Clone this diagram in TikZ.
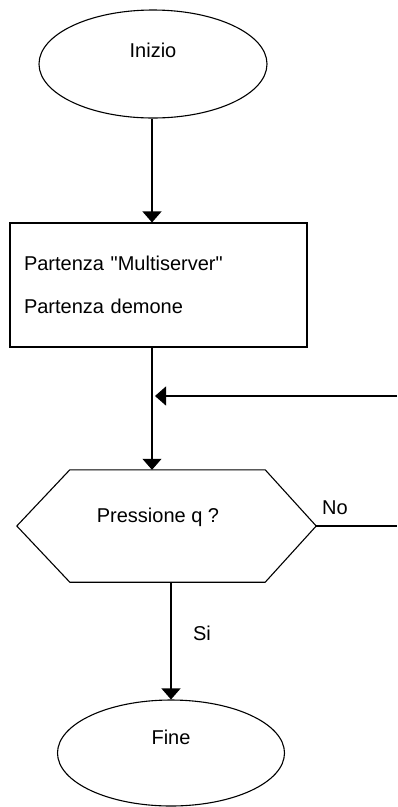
\documentclass[tikz,border=0pt]{standalone}
\usepackage{fontspec}
\setmainfont{Liberation Sans}[Ligatures=TeXOff]
\usetikzlibrary{shapes.geometric,arrows.meta}
\begin{document}
\begin{tikzpicture}[x=1pt,y=-1pt,
  every node/.style={font=\fontsize{20}{24}\selectfont},
  line/.style={line width=1.1pt},
  arr/.style={line width=1.1pt,-{Triangle[width=19pt,length=11pt]}},
  term/.style={ellipse,draw,line width=1.1pt,minimum width=228pt,minimum height=108pt,inner sep=0pt,text height=15pt,text depth=29pt},
  procbox/.style={rectangle,draw,line width=1.1pt,minimum width=297pt,minimum height=124pt,inner sep=0pt,text width=269pt,align=left,font=\fontsize{20}{43}\selectfont},
  lbl/.style={inner sep=0pt}
]
\useasboundingbox (0,0) rectangle (397,807);
\node[term] (start) at (153,64) {Inizio};
\node[procbox] (proc) at (158.5,285) {Partenza "Multiserver"\\Partenza demone};
\node[rectangle,minimum width=299pt,minimum height=112pt,inner sep=0pt] (dec) at (166.5,526) {};
\draw[line] (dec.west) -- ([xshift=53pt]dec.north west) -- ([xshift=-51pt]dec.north east) -- (dec.east) -- ([xshift=-51pt]dec.south east) -- ([xshift=53pt]dec.south west) -- cycle;
\node[lbl] (qtext) at (158,517) {Pressione q ?};
\node[term,minimum width=227pt,minimum height=106pt,text depth=33pt,text height=15pt] (end) at (171,753) {Fine};
\coordinate (merge) at (152,396);
\coordinate (loopin) at (397,396);
\coordinate (noend) at (397,526);
\node[lbl] (no) at (335,508) {No};
\node[lbl] (si) at (202,633) {Si};
\draw[arr] (merge |- start.south) -- (merge |- proc.north);
\draw[arr] (merge |- proc.south) -- (merge |- dec.north);
\draw[arr] (loopin) -- ([xshift=3pt]merge);
\draw[line] (dec.east) -- (noend);
\draw[arr] (end.north |- dec.south) -- (end.north);
\end{tikzpicture}
\end{document}
